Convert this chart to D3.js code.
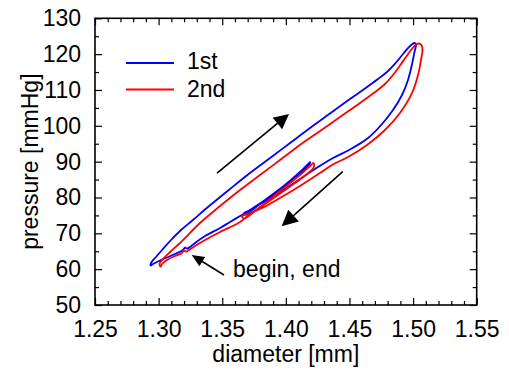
<!DOCTYPE html>
<html><head><meta charset="utf-8">
<script src="https://cdn.jsdelivr.net/npm/d3@7"></script>
<style>
body{margin:0;background:#fff}
svg text{font-family:"Liberation Sans",Arial,Helvetica,sans-serif;fill:#000}
</style>
</head><body>
<svg id="chart" width="509" height="371"></svg>
<script>
// ---------- data ----------
const seriesNames = ["1st", "2nd"];
const seriesColors = ["#0000ff", "#ff0000"];

// 1st cycle (blue): diameter [mm], pressure [mmHg]
const diameter1st = [1.3223,1.3207,1.3192,1.3129,1.3058,1.2995,1.2956,1.2936,1.2940,1.2979,1.3027,1.3090,1.3168,1.3270,1.3388,1.3561,1.3718,1.3876,1.4033,1.4190,1.4347,1.4504,1.4622,1.4724,1.4803,1.4866,1.4921,1.4960,1.4992,1.5011,1.5023,1.5011,1.4992,1.4960,1.4913,1.4842,1.4756,1.4646,1.4504,1.4371,1.4253,1.4111,1.3954,1.3813,1.3703,1.3671,1.3703,1.3836,1.3993,1.4111,1.4174,1.4190,1.4182,1.4111,1.3993,1.3860,1.3718,1.3640,1.3561,1.3483,1.3365,1.3286,1.3247,1.3223];
const pressure1st = [65.63,66.04,65.35,64.23,63.11,62.14,61.44,61.02,61.72,63.39,65.35,67.86,70.65,73.72,77.34,82.37,86.83,91.02,95.20,99.39,103.44,107.48,110.41,113.06,115.29,117.67,120.04,121.71,122.77,123.11,122.69,120.60,117.25,112.78,108.60,104.41,100.51,96.60,93.39,91.02,88.51,85.16,81.53,78.46,76.23,75.67,75.81,79.30,83.48,87.11,89.34,89.90,89.06,86.55,83.20,79.86,76.51,74.83,73.16,71.49,69.25,67.30,66.18,65.63];

// 2nd cycle (red)
const diameter2nd = [1.3215,1.3200,1.3184,1.3129,1.3066,1.3027,1.3015,1.3007,1.3034,1.3090,1.3168,1.3325,1.3483,1.3640,1.3797,1.3954,1.4111,1.4269,1.4426,1.4583,1.4701,1.4779,1.4842,1.4897,1.4944,1.4984,1.5015,1.5043,1.5066,1.5074,1.5062,1.5043,1.4992,1.4897,1.4779,1.4638,1.4489,1.4363,1.4269,1.4111,1.3954,1.3813,1.3703,1.3655,1.3671,1.3797,1.3954,1.4111,1.4190,1.4217,1.4221,1.4166,1.4072,1.3938,1.3813,1.3718,1.3640,1.3483,1.3365,1.3286,1.3239,1.3215];
const pressure2nd = [64.79,65.21,64.51,63.67,62.56,61.44,60.74,61.44,62.83,64.79,67.30,72.88,77.62,82.09,86.27,90.46,94.65,98.55,102.46,106.37,109.43,111.67,114.18,116.83,119.20,121.15,122.41,122.97,122.55,121.15,118.36,114.74,109.16,103.57,98.83,94.65,91.30,89.07,86.83,83.20,79.86,77.07,75.39,74.83,74.14,77.34,81.81,86.27,88.79,89.62,88.51,86.55,84.04,80.69,77.62,75.39,73.16,70.37,68.14,66.46,65.35,64.79];

const xTickValues = [1.25, 1.30, 1.35, 1.40, 1.45, 1.50, 1.55];
const yTickValues = [50, 60, 70, 80, 90, 100, 110, 120, 130];
const xTitle = "diameter [mm]";
const yTitle = "pressure [mmHg]";

// annotation arrows: [fromDiameter, fromPressure, toDiameter, toPressure]
const arrowUp = [1.3459, 86.83, 1.4025, 103.30];
const arrowDown = [1.4447, 87.20, 1.3967, 71.96];
const arrowBegin = [1.3514, 58.37, 1.3260, 63.95];
const beginLabel = "begin, end";
const beginLabelPos = [1.3585, 57.9];

// ---------- drawing ----------
const svg = d3.select("#chart");
const L = 95, R = 476.7, T = 18.3, B = 305;
const x = d3.scaleLinear().domain([1.25, 1.55]).range([L, R]);
const y = d3.scaleLinear().domain([50, 130]).range([B, T]);
const FS = 23;

const xMinor = d3.range(125, 156, 1).map(v => v / 100).filter(v => !xTickValues.some(t => Math.abs(t - v) < 1e-9));
const yMinor = d3.range(55, 130, 10);

function styleAxis(g) {
  g.select(".domain").remove();
  g.selectAll(".tick line").attr("stroke", "#000").attr("stroke-width", 1.2);
}
// bottom
svg.append("g").attr("transform", `translate(0,${B})`)
  .call(d3.axisBottom(x).tickValues(xTickValues).tickSize(-7).tickPadding(16).tickFormat(d3.format(".2f")))
  .call(styleAxis).call(g => g.selectAll("text").attr("font-size", FS).attr("font-family", null));
svg.append("g").attr("transform", `translate(0,${B})`)
  .call(d3.axisBottom(x).tickValues(xMinor).tickSize(-4).tickFormat(""))
  .call(styleAxis);
// top
svg.append("g").attr("transform", `translate(0,${T})`)
  .call(d3.axisTop(x).tickValues(xTickValues).tickSize(-7).tickFormat(""))
  .call(styleAxis);
svg.append("g").attr("transform", `translate(0,${T})`)
  .call(d3.axisTop(x).tickValues(xMinor).tickSize(-4).tickFormat(""))
  .call(styleAxis);
// left
svg.append("g").attr("transform", `translate(${L},0)`)
  .call(d3.axisLeft(y).tickValues(yTickValues).tickSize(-7).tickPadding(14).tickFormat(d3.format("d")))
  .call(styleAxis).call(g => g.selectAll("text").attr("font-size", FS).attr("font-family", null));
svg.append("g").attr("transform", `translate(${L},0)`)
  .call(d3.axisLeft(y).tickValues(yMinor).tickSize(-4).tickFormat(""))
  .call(styleAxis);
// right
svg.append("g").attr("transform", `translate(${R},0)`)
  .call(d3.axisRight(y).tickValues(yTickValues).tickSize(-7).tickFormat(""))
  .call(styleAxis);
svg.append("g").attr("transform", `translate(${R},0)`)
  .call(d3.axisRight(y).tickValues(yMinor).tickSize(-4).tickFormat(""))
  .call(styleAxis);

// frame
svg.append("rect").attr("x", L).attr("y", T).attr("width", R - L).attr("height", B - T)
  .attr("fill", "none").attr("stroke", "#000").attr("stroke-width", 1.6);

// titles
svg.append("text").attr("x", (L + R) / 2).attr("y", 362).attr("text-anchor", "middle")
  .attr("font-size", FS).text(xTitle);
svg.append("text").attr("transform", `translate(38,${(T + B) / 2}) rotate(-90)`)
  .attr("text-anchor", "middle").attr("font-size", FS).text(yTitle);

// curves
const line = d3.line().x(d => x(d[0])).y(d => y(d[1])).curve(d3.curveCatmullRom.alpha(0.5));
const series = [
  d3.zip(diameter1st, pressure1st),
  d3.zip(diameter2nd, pressure2nd)
];
series.forEach((s, i) => {
  svg.append("path").datum(s).attr("d", line).attr("fill", "none")
    .attr("stroke", seriesColors[i]).attr("stroke-width", 1.8).attr("stroke-linejoin", "round");
});

// arrows
function drawArrow(a, len, wid) {
  const x0 = x(a[0]), y0 = y(a[1]), x1 = x(a[2]), y1 = y(a[3]);
  const dx = x1 - x0, dy = y1 - y0, m = Math.hypot(dx, dy);
  const ux = dx / m, uy = dy / m, nx = -uy, ny = ux;
  const bx = x1 - ux * len, by = y1 - uy * len;
  svg.append("line").attr("x1", x0).attr("y1", y0).attr("x2", bx + ux * 2).attr("y2", by + uy * 2)
    .attr("stroke", "#000").attr("stroke-width", 1.6);
  svg.append("path").attr("d", `M${x1},${y1}L${bx + nx * wid / 2},${by + ny * wid / 2}L${bx - nx * wid / 2},${by - ny * wid / 2}Z`)
    .attr("fill", "#000");
}
drawArrow(arrowUp, 15, 15);
drawArrow(arrowDown, 16, 16);
drawArrow(arrowBegin, 12.5, 11);

svg.append("text").attr("x", x(beginLabelPos[0])).attr("y", y(beginLabelPos[1]))
  .attr("font-size", FS).text(beginLabel);

// legend
const legY = [63, 89.5];
seriesNames.forEach((n, i) => {
  svg.append("line").attr("x1", 126).attr("x2", 174).attr("y1", legY[i]).attr("y2", legY[i])
    .attr("stroke", seriesColors[i]).attr("stroke-width", 1.8);
  svg.append("text").attr("x", 187).attr("y", legY[i] + 6 + i * 1.5).attr("font-size", FS).text(n);
});
</script>
</body></html>
